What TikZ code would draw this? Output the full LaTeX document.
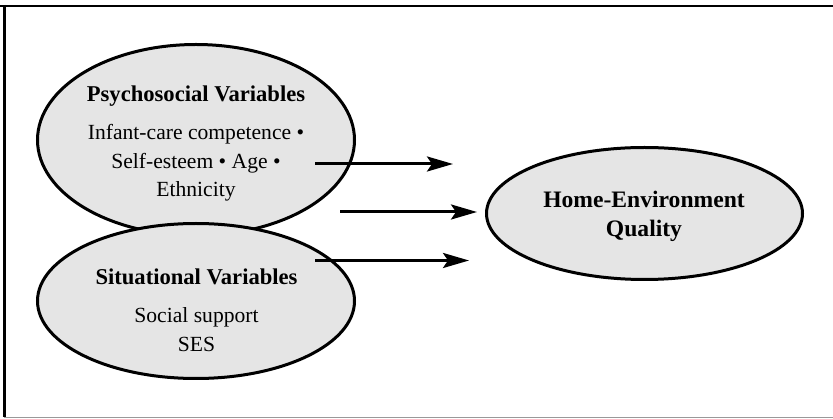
\documentclass[tikz,border=0pt]{standalone}
\usepackage{fontspec}
\setmainfont{Liberation Serif}
\usetikzlibrary{arrows.meta,shapes.geometric}
\begin{document}
\begin{tikzpicture}[x=1pt,y=-1pt,
  oval/.style={draw=black, line width=3pt, fill=black!10, ellipse, inner sep=0pt},
  lbl/.style={anchor=base, inner sep=0pt, font=\fontsize{21.6}{26}\selectfont},
  ttl/.style={anchor=base, inner sep=0pt, font=\fontsize{22.6}{26}\selectfont\bfseries},
  bigttl/.style={anchor=base, inner sep=0pt, font=\fontsize{23.6}{28}\selectfont\bfseries},
  arr/.style={line width=3pt, -{Stealth[length=26pt,width=15pt,inset=5pt]}}]
\useasboundingbox (0,0) rectangle (833,419);
% frame
\draw[line width=2.4pt] (0,6) -- (833,6);
\draw[line width=2.2pt] (4.5,5) -- (4.5,417);
\draw[black!40, line width=1pt] (4,417.5) -- (833,417.5);
% ellipses
\node[oval, minimum width=317pt, minimum height=191pt] (psy) at (196,140) {};
\node[oval, minimum width=317pt, minimum height=155pt] (sit) at (196,301) {};
\node[oval, minimum width=316pt, minimum height=132pt] (home) at (644.5,213.5) {};
% texts
\node[ttl] (psyT) at (196,102) {Psychosocial Variables};
\node[lbl] (psy1) at (196,140) {Infant-care competence •};
\node[lbl] (psy2) at (196,168.5) {Self-esteem • Age •};
\node[lbl] (psy3) at (196,197) {Ethnicity};
\node[ttl] (sitT) at (196.5,285) {Situational Variables};
\node[lbl] (sit1) at (196.5,323) {Social support};
\node[lbl] (sit2) at (196.5,352) {SES};
\node[bigttl] (homeT) at (644,208) {Home-Environment};
\node[bigttl] (home2) at (644,237) {Quality};
% arrows
\coordinate (a1s) at (315,164);
\coordinate (a1e) at (453,164);
\coordinate (a2s) at (340,212);
\coordinate (a2e) at (477,212);
\coordinate (a3s) at (315,260.5);
\coordinate (a3e) at (469,260.5);
\draw[arr] (a1s) -- (a1e);
\draw[arr] (a2s) -- (a2e);
\draw[arr] (a3s) -- (a3e);
\end{tikzpicture}
\end{document}
